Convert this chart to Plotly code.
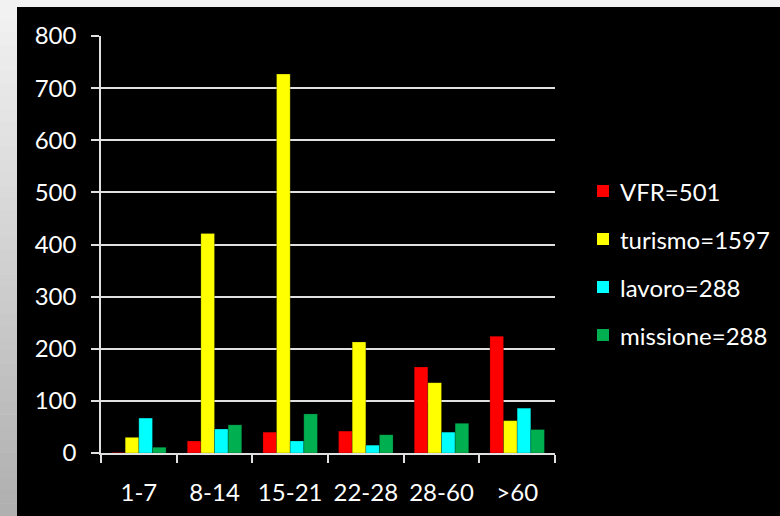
import plotly.graph_objects as go

# Stay-length classes (days) and counts per travel purpose
categories = ["1-7", "8-14", "15-21", "22-28", "28-60", ">60"]
vfr = [1, 23, 40, 42, 165, 224]
turismo = [30, 421, 727, 213, 135, 62]
lavoro = [67, 46, 23, 15, 40, 86]
missione = [11, 54, 75, 35, 57, 45]

series_names = ["VFR=501", "turismo=1597", "lavoro=288", "missione=288"]
series_values = [vfr, turismo, lavoro, missione]
series_colors = ["#ff0000", "#ffff00", "#00ffff", "#00b050"]
y_ticks = [0, 100, 200, 300, 400, 500, 600, 700, 800]

FONT = "Lato, 'Open Sans', sans-serif"
FS = 24

# plot area in pixels
L, R, T, B = 101, 555, 36, 453
W, H = R - L, B - T


def px(x):
    return (x - L) / W


def py(y):
    return (B - y) / H


fig = go.Figure()
for name, vals, col in zip(series_names, series_values, series_colors):
    fig.add_trace(go.Bar(
        x=categories, y=vals, name=name, showlegend=False,
        marker=dict(color=col, line=dict(color="rgba(0,0,0,0.35)", width=0.6)),
    ))

# Page background: black panel with a light frame on the left and top
shapes = [dict(type="rect", xref="paper", yref="paper",
               x0=px(17), x1=px(780), y0=py(516), y1=py(7),
               fillcolor="black", line=dict(width=0), layer="below")]
# vertical gradient on the left strip
n = 40
for k in range(n):
    t = k / (n - 1)
    g = int(242 - (242 - 176) * t)
    y0 = 7 + k * (516 - 7) / n
    y1 = 7 + (k + 1) * (516 - 7) / n + 0.5
    shapes.append(dict(type="rect", xref="paper", yref="paper",
                       x0=px(0), x1=px(17), y0=py(y1), y1=py(y0),
                       fillcolor=f"rgb({g},{g},{g})", line=dict(width=0), layer="below"))

# legend: colour swatch + label per series
annotations = []
for i, (name, col) in enumerate(zip(series_names, series_colors)):
    cy = 191 + 48 * i
    shapes.append(dict(type="rect", xref="paper", yref="paper",
                       x0=px(597), x1=px(609), y0=py(cy + 6), y1=py(cy - 6),
                       fillcolor=col, line=dict(width=0)))
    annotations.append(dict(xref="paper", yref="paper", x=px(618), y=py(cy),
                            xanchor="left", yanchor="middle", text=name,
                            showarrow=False,
                            font=dict(family=FONT, size=FS, color="white")))

fig.update_layout(
    width=780, height=516,
    margin=dict(l=L, r=780 - R, t=T, b=516 - B),
    paper_bgcolor="#f2f2f2",
    plot_bgcolor="black",
    barmode="group",
    bargap=0.28,
    bargroupgap=0,
    font=dict(family=FONT, size=FS, color="white"),
    shapes=shapes,
    annotations=annotations,
    showlegend=False,
    xaxis=dict(
        showgrid=False, showline=True, linecolor="#e0e0e0", linewidth=1.5,
        ticks="outside", tickson="boundaries", ticklen=8, tickcolor="#e0e0e0",
        tickwidth=1.5, tickfont=dict(size=FS, color="white"), fixedrange=True,
        ticklabelstandoff=17, tickangle=0, automargin=False,
    ),
    yaxis=dict(
        range=[0, 800], tickvals=y_ticks, showgrid=True, gridcolor="#e0e0e0",
        gridwidth=1.5, showline=True, linecolor="#e0e0e0", linewidth=1.5,
        ticks="outside", ticklen=8, tickcolor="#e0e0e0", tickwidth=1.5,
        zeroline=False, tickfont=dict(size=FS, color="white"),
        ticklabelstandoff=10, automargin=False,
    ),
)

fig.write_html("out.html")
